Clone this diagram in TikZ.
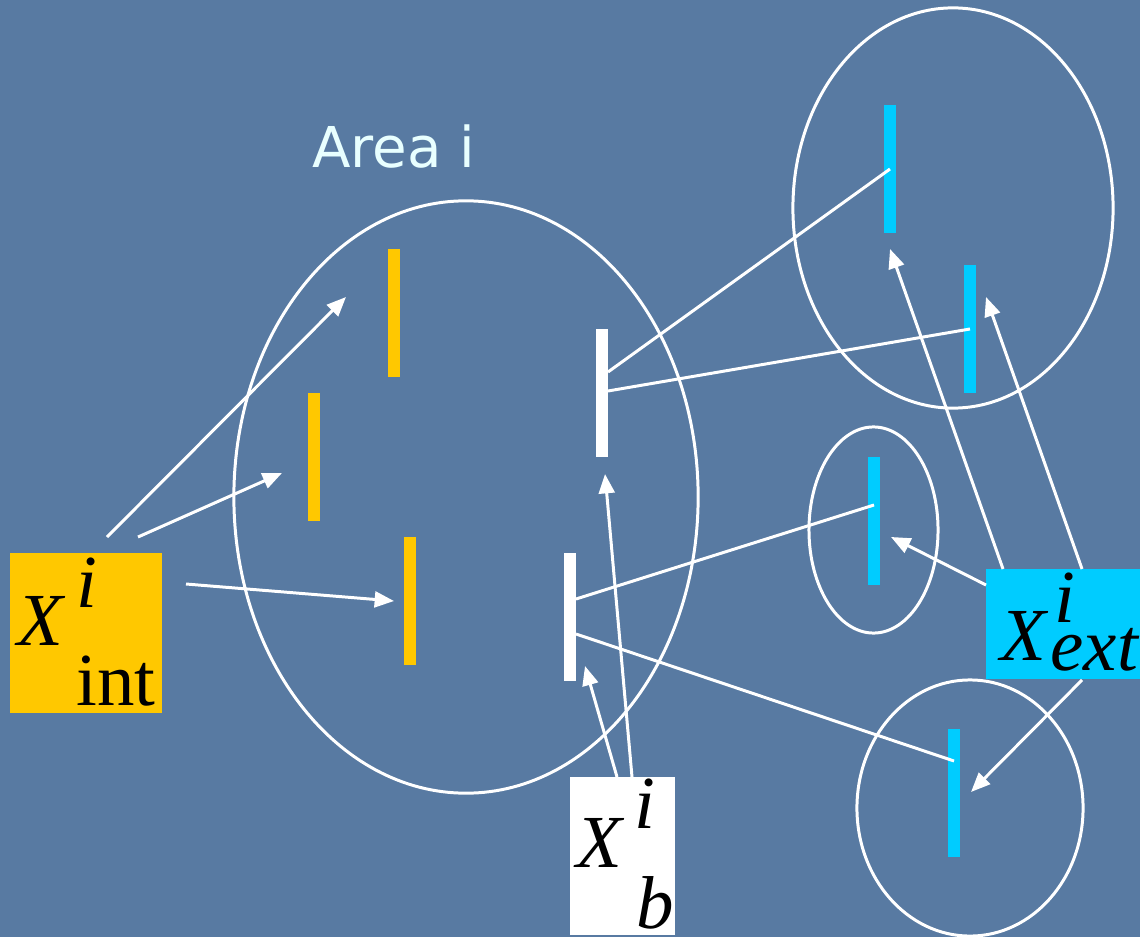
\documentclass[tikz,border=0pt]{standalone}
\usepackage{fontspec}
\setmainfont{Liberation Serif}
\newfontfamily\areafont{DejaVu Sans}
\usetikzlibrary{arrows.meta,calc}
\definecolor{bg}{HTML}{587AA2}
\definecolor{barY}{HTML}{FFC800}
\definecolor{barC}{HTML}{00CCFF}
\definecolor{areaTxt}{HTML}{E8FFFF}
\begin{document}
\begin{tikzpicture}[x=0.01cm,y=-0.01cm,
  bar/.style={rectangle, minimum width=0.12cm, minimum height=1.28cm, inner sep=0pt, draw=none},
  ybar/.style={bar, fill=barY},
  wbar/.style={bar, fill=white},
  cbar/.style={bar, fill=barC},
  ring/.style={draw=white, line width=0.85pt},
  conn/.style={draw=white, line width=0.85pt},
  arr/.style={conn, -{Triangle[length=5.5pt,width=4.5pt]}},
  lbox/.style={rectangle, inner sep=0pt, draw=none},
  lbl/.style={inner sep=0pt, anchor=base west, text=black, font=\fontsize{21.3}{24}\selectfont}]
\fill[bg] (0,0) rectangle (1140,937);
\useasboundingbox (0,0) rectangle (1140,937);

% areas
\draw[ring] (466,497) ellipse [x radius=2.32cm, y radius=2.96cm];
\draw[ring] (953,208) ellipse [x radius=1.60cm, y radius=2.00cm];
\draw[ring] (873.5,530) ellipse [x radius=0.645cm, y radius=1.03cm];
\draw[ring] (970,808) ellipse [x radius=1.13cm, y radius=1.28cm];

\node[font=\areafont\fontsize{16}{20}\selectfont, text=areaTxt, anchor=base, inner sep=0pt] (area) at (394,168) {Area i};

% bars
\node[ybar] (y1) at (394,313) {};
\node[ybar] (y2) at (314,457) {};
\node[ybar] (y3) at (410,601) {};
\node[wbar] (w1) at (602,393) {};
\node[wbar] (w2) at (570,617) {};
\node[cbar] (c1) at (890,169) {};
\node[cbar] (c2) at (970,329) {};
\node[cbar] (c3) at (874,521) {};
\node[cbar] (c4) at (954,793) {};

% tie lines
\coordinate (w1a) at (608,372);
\coordinate (w1b) at (608,391);
\coordinate (w2a) at (576,599);
\coordinate (w2b) at (576,634);
\coordinate (c3a) at (874,505);
\coordinate (c4a) at (954,761);
\draw[conn] (w1a) -- (c1.center);
\draw[conn] (w1b) -- (c2.center);
\draw[conn] (w2a) -- (c3a);
\draw[conn] (w2b) -- (c4a);

% label boxes
\node[lbox, fill=barY, minimum width=1.52cm, minimum height=1.60cm] (xint) at (86,633) {};
\node[lbox, fill=white, minimum width=1.05cm, minimum height=1.58cm] (xb) at (622.5,856) {};
\node[lbox, fill=barC, minimum width=1.54cm, minimum height=1.10cm] (xext) at (1063,624) {};

\node[lbl] (xintX) at (17,645) {\itshape X};
\node[lbl] (xintI) at (76,607) {\itshape i};
\node[lbl] (xintS) at (76,705) {int};
\node[lbl] (xbX) at (576,867) {\itshape X};
\node[lbl] (xbI) at (634,828) {\itshape i};
\node[lbl] (xbS) at (636,928) {\itshape b};
\node[lbl] (xeX) at (1000,660) {\itshape X};
\node[lbl] (xeI) at (1054,622) {\itshape i};
\node[lbl] (xeS) at (1050,670) {\itshape ext};

% arrows from X_int
\coordinate (ia1) at (107,537); \coordinate (ta1) at (346,297);
\coordinate (ia2) at (138,537); \coordinate (ta2) at (282,473);
\coordinate (ia3) at (186,584); \coordinate (ta3) at (394,601);
\draw[arr] (ia1) -- (ta1);
\draw[arr] (ia2) -- (ta2);
\draw[arr] (ia3) -- (ta3);

% arrows from X_b
\coordinate (ib1) at (617,777); \coordinate (tb1) at (585,666);
\coordinate (ib2) at (632,777); \coordinate (tb2) at (605,474);
\draw[arr] (ib1) -- (tb1);
\draw[arr] (ib2) -- (tb2);

% arrows from X_ext
\coordinate (ie1) at (1003,569); \coordinate (te1) at (890,249);
\coordinate (ie2) at (1082,569); \coordinate (te2) at (986,297);
\coordinate (ie3) at (986,585); \coordinate (te3) at (891,537);
\coordinate (ie4) at (1082,680); \coordinate (te4) at (971,792);
\draw[arr] (ie1) -- (te1);
\draw[arr] (ie2) -- (te2);
\draw[arr] (ie3) -- (te3);
\draw[arr] (ie4) -- (te4);
\end{tikzpicture}
\end{document}
